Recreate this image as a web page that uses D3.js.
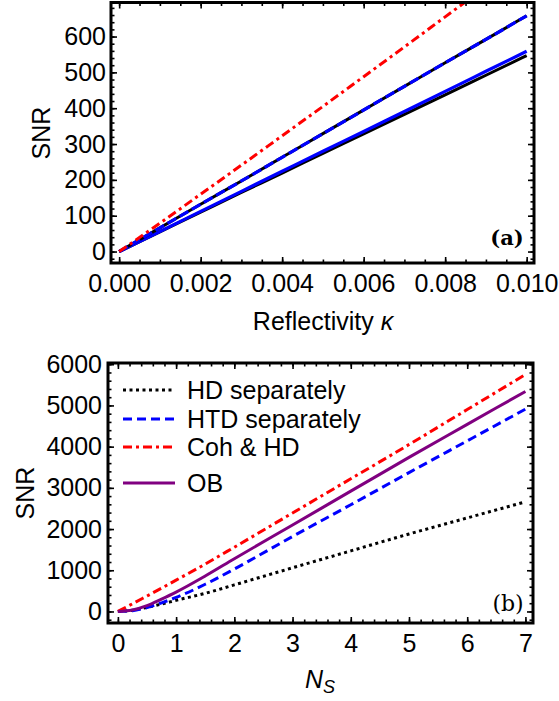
<!DOCTYPE html>
<html>
<head>
<meta charset="utf-8">
<script src="https://cdnjs.cloudflare.com/ajax/libs/d3/7.8.5/d3.min.js"></script>
<style>
  body { margin: 0; background: #fff; }
  text { font-family: "Liberation Sans", Arial, sans-serif; fill: #000; }
</style>
</head>
<body>
<div id="chart-area"></div>
<script>
// ---- data: panel (a), SNR vs reflectivity
var kappa      = [0, 0.001, 0.002, 0.003, 0.004, 0.005, 0.006, 0.007, 0.008, 0.009, 0.010];
var aCoh       = [0, 79, 160, 241, 323, 405, 488, 571, 655, 739, 823];
var aHtd       = [0, 66, 132, 197, 263, 329, 395, 461, 527, 592, 658];
var aBlueSolid = [0, 56, 112, 168, 224, 280, 335, 391, 447, 503, 559];
var aBlackSolid= [0, 55, 110, 165, 219, 274, 328, 383, 437, 492, 547];

// ---- data: panel (b), SNR vs N_S
var ns   = [0, 0.25, 0.5, 0.75, 1, 1.5, 2, 3, 4, 5, 6, 7];
var bHd  = [0, 30, 100, 180, 270, 440, 645, 1060, 1470, 1880, 2270, 2660];
var bHtd = [0, 20, 95, 210, 340, 660, 1030, 1820, 2590, 3370, 4140, 4910];
var bCoh = [0, 185, 375, 565, 760, 1150, 1560, 2390, 3220, 4050, 4900, 5750];
var bOb  = [0, 35, 140, 300, 470, 860, 1280, 2100, 2920, 3740, 4540, 5340];

var legendNames = ["HD separately", "HTD separately", "Coh & HD", "OB"];

// tick values
var aXTicks = [0, 0.002, 0.004, 0.006, 0.008, 0.010];
var aYTicks = [0, 100, 200, 300, 400, 500, 600];
var bXTicks = [0, 1, 2, 3, 4, 5, 6, 7];
var bYTicks = [0, 1000, 2000, 3000, 4000, 5000, 6000];

var FS = 25;
var svg = d3.select("#chart-area").append("svg")
  .attr("width", 559).attr("height", 701);

// styles for each curve
var DOT = "3,3.5", DASH = "9,5", DOTDASH = "9,4,3,4";

function panel(cfg) {
  var x = d3.scaleLinear().domain(cfg.xDom).range([cfg.left, cfg.right]);
  var y = d3.scaleLinear().domain(cfg.yDom).range([cfg.bottom, cfg.top]);
  var g = svg.append("g");

  var clipId = "clip-" + cfg.name;
  svg.append("clipPath").attr("id", clipId).append("rect")
    .attr("x", cfg.left).attr("y", cfg.top)
    .attr("width", cfg.right - cfg.left).attr("height", cfg.bottom - cfg.top);

  // axes: major + minor ticks on all four sides, pointing inward
  function minorTicks(sc, step) {
    return d3.range(Math.ceil(sc.domain()[0] / step), Math.floor(sc.domain()[1] / step) + 1)
      .map(function(i) { return i * step; });
  }
  var xMinor = minorTicks(x, cfg.xMinor), yMinor = minorTicks(y, cfg.yMinor);

  g.append("g").attr("transform", "translate(0," + cfg.bottom + ")")
    .call(d3.axisBottom(x).tickValues(xMinor).tickSize(-3.5).tickFormat(""));
  g.append("g").attr("transform", "translate(0," + cfg.top + ")")
    .call(d3.axisTop(x).tickValues(xMinor).tickSize(-3.5).tickFormat(""));
  g.append("g").attr("transform", "translate(" + cfg.left + ",0)")
    .call(d3.axisLeft(y).tickValues(yMinor).tickSize(-3.5).tickFormat(""));
  g.append("g").attr("transform", "translate(" + cfg.right + ",0)")
    .call(d3.axisRight(y).tickValues(yMinor).tickSize(-3.5).tickFormat(""));

  g.append("g").attr("transform", "translate(0," + cfg.bottom + ")")
    .call(d3.axisBottom(x).tickValues(cfg.xTicks).tickSize(-6).tickPadding(11).tickFormat(cfg.xFmt));
  g.append("g").attr("transform", "translate(0," + cfg.top + ")")
    .call(d3.axisTop(x).tickValues(cfg.xTicks).tickSize(-6).tickFormat(""));
  g.append("g").attr("transform", "translate(" + cfg.left + ",0)")
    .call(d3.axisLeft(y).tickValues(cfg.yTicks).tickSize(-6).tickPadding(cfg.yPad).tickFormat(d3.format("d")));
  g.append("g").attr("transform", "translate(" + cfg.right + ",0)")
    .call(d3.axisRight(y).tickValues(cfg.yTicks).tickSize(-6).tickFormat(""));

  g.selectAll(".domain").remove();
  g.selectAll(".tick line").attr("stroke", "#000").attr("stroke-width", 1.6);
  g.selectAll(".tick text").attr("font-size", FS)
    .style("font-family", "'Liberation Sans', Arial, sans-serif").attr("fill", "#000");

  // curves
  var line = d3.line().curve(d3.curveMonotoneX)
    .x(function(d) { return x(d[0]); })
    .y(function(d) { return y(d[1]); });
  var lines = g.append("g").attr("clip-path", "url(#" + clipId + ")");
  cfg.series.forEach(function(s) {
    lines.append("path")
      .datum(d3.zip(cfg.xs, s.values))
      .attr("d", line)
      .attr("fill", "none")
      .attr("stroke", s.color)
      .attr("stroke-width", s.width)
      .attr("stroke-dasharray", s.dash || null);
  });

  // frame
  g.append("rect")
    .attr("x", cfg.left).attr("y", cfg.top)
    .attr("width", cfg.right - cfg.left).attr("height", cfg.bottom - cfg.top)
    .attr("fill", "none").attr("stroke", "#000").attr("stroke-width", 3);

  return { x: x, y: y, g: g };
}

// ---- panel (a)
var pa = panel({
  name: "a", left: 111, right: 534, top: 2.5, bottom: 263,
  xDom: [-0.0002, 0.01018], yDom: [-32, 695],
  xTicks: aXTicks, yTicks: aYTicks, xMinor: 0.0005, yMinor: 20, yPad: 5,
  xFmt: d3.format(".3f"), xs: kappa,
  series: [
    { values: aBlackSolid, color: "#000", width: 3 },
    { values: aBlueSolid, color: "#0000ff", width: 3.2 },
    { values: aHtd, color: "#000", width: 3 },
    { values: aHtd, color: "#0000ff", width: 3.2, dash: "10,4" },
    { values: aCoh, color: "#ff0000", width: 3, dash: DOTDASH }
  ]
});

pa.g.append("text")
  .attr("x", 507).attr("y", 245)
  .attr("text-anchor", "middle")
  .style("font-family", "'DejaVu Serif', serif").style("font-weight", "bold")
  .attr("font-size", 21).text("(a)");

svg.append("text")
  .attr("transform", "translate(50,133) rotate(-90)")
  .attr("text-anchor", "middle").attr("font-size", FS).text("SNR");

var xa = svg.append("text")
  .attr("x", 323).attr("y", 330)
  .attr("text-anchor", "middle").attr("font-size", FS);
xa.append("tspan").text("Reflectivity ");
xa.append("tspan").style("font-style", "italic").text("κ");

// ---- panel (b)
var pb = panel({
  name: "b", left: 108, right: 533, top: 363, bottom: 623,
  xDom: [-0.17, 7.13], yDom: [-280, 6030],
  xTicks: bXTicks, yTicks: bYTicks, xMinor: 0.2, yMinor: 200, yPad: 6,
  xFmt: d3.format("d"), xs: ns,
  series: [
    { values: bHd, color: "#000", width: 3, dash: DOT },
    { values: bHtd, color: "#0000ff", width: 3, dash: DASH },
    { values: bCoh, color: "#ff0000", width: 3, dash: DOTDASH },
    { values: bOb, color: "#800080", width: 3 }
  ]
});

pb.g.append("text")
  .attr("x", 508).attr("y", 611)
  .attr("text-anchor", "middle")
  .style("font-family", "'DejaVu Serif', serif")
  .attr("font-size", 22).text("(b)");

svg.append("text")
  .attr("transform", "translate(34,493) rotate(-90)")
  .attr("text-anchor", "middle").attr("font-size", FS).text("SNR");

var xb = svg.append("text")
  .attr("x", 320).attr("y", 688)
  .attr("text-anchor", "middle").attr("font-size", FS)
  .style("font-style", "italic");
xb.append("tspan").text("N");
xb.append("tspan").attr("dy", 5).attr("font-size", 18).text("S");

// legend
var legendStyles = [
  { color: "#000", dash: DOT },
  { color: "#0000ff", dash: DASH },
  { color: "#ff0000", dash: DOTDASH },
  { color: "#800080", dash: null }
];
var legendY = [390, 419, 447, 483];
legendNames.forEach(function(name, i) {
  var st = legendStyles[i];
  svg.append("line")
    .attr("x1", 123).attr("x2", 175)
    .attr("y1", legendY[i]).attr("y2", legendY[i])
    .attr("stroke", st.color).attr("stroke-width", 3)
    .attr("stroke-dasharray", st.dash);
  svg.append("text")
    .attr("x", 187).attr("y", legendY[i]).attr("dy", "0.35em")
    .attr("font-size", FS).text(name);
});
</script>
</body>
</html>
